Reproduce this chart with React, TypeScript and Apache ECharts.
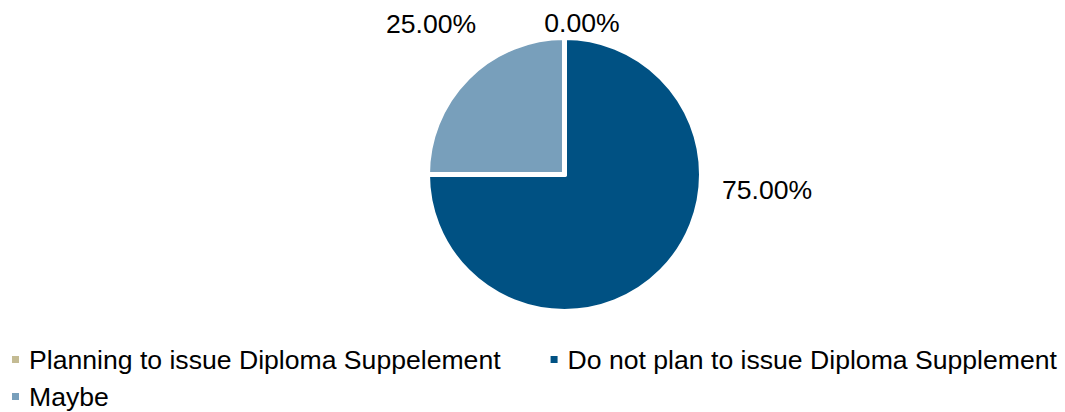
import React, { useEffect, useRef } from "react";
import * as echarts from "echarts";

const categories = [
  "Planning to issue Diploma Suppelement",
  "Do not plan to issue Diploma Supplement",
  "Maybe",
];
const values = [0, 75, 25];
const colors = ["#C4BB93", "#005183", "#789FBB"];
const labelPos: [number, number][] = [
  [582, 23],
  [767, 190],
  [431, 24],
];

const FONT = "'Liberation Sans', Arial, sans-serif";
const FS = 26.6;

export default function App() {
  const ref = useRef<HTMLDivElement>(null);
  useEffect(() => {
    if (!ref.current) return;
    const chart = echarts.init(ref.current, undefined, { renderer: "svg" });
    const total = values.reduce((a, b) => a + b, 0);
    const legendText = { fontSize: FS, color: "#000", fontFamily: FONT, padding: [0, 0, 0, 4] };
    chart.setOption({
      animation: false,
      backgroundColor: "#ffffff",
      textStyle: { fontFamily: FONT },
      legend: [
        {
          data: [categories[0], categories[1]],
          left: 10,
          top: 346,
          orient: "horizontal",
          icon: "rect",
          itemWidth: 9,
          itemHeight: 9,
          itemGap: 48,
          padding: 0,
          textStyle: legendText,
        },
        {
          data: [categories[2]],
          left: 10,
          top: 383,
          icon: "rect",
          itemWidth: 9,
          itemHeight: 9,
          padding: 0,
          textStyle: legendText,
        },
      ],
      series: [
        {
          type: "pie",
          center: [564.5, 174.5],
          radius: 137,
          startAngle: 90,
          clockwise: true,
          avoidLabelOverlap: false,
          itemStyle: { borderColor: "#ffffff", borderWidth: 5 },
          label: {
            show: true,
            position: "outside",
            fontSize: FS,
            color: "#000",
            fontFamily: FONT,
            formatter: (p: any) => ((p.value / total) * 100).toFixed(2) + "%",
          },
          labelLine: { show: false },
          labelLayout: (p: any) => ({
            x: labelPos[p.dataIndex][0],
            y: labelPos[p.dataIndex][1],
            align: "center",
            verticalAlign: "middle",
          }),
          emphasis: { disabled: true },
          data: categories.map((name, i) => ({
            name,
            value: values[i],
            itemStyle: { color: colors[i] },
          })),
        },
      ],
    });
    return () => chart.dispose();
  }, []);
  return (
    <div
      ref={ref}
      style={{ position: "fixed", left: 0, top: 0, width: 1065, height: 412 }}
    />
  );
}
